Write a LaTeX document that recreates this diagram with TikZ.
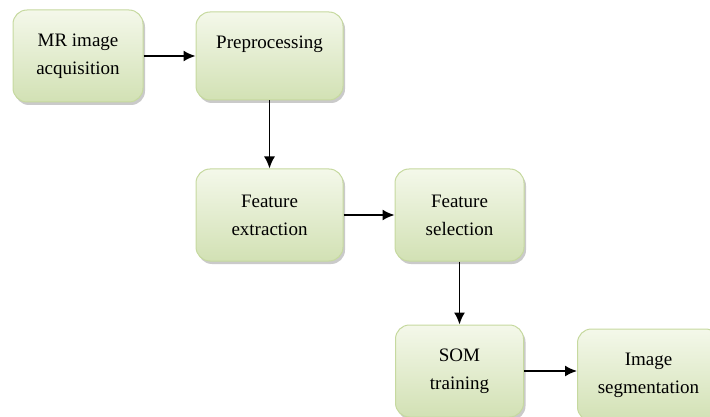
\documentclass[tikz,border=0pt]{standalone}
\usepackage{fontspec}
\setmainfont{Liberation Serif}
\usepackage{tikz}
\usetikzlibrary{positioning,shadows,arrows.meta}

\definecolor{boxtop}{HTML}{F4F8EA}
\definecolor{boxbottom}{HTML}{D2E1B4}
\definecolor{boxedge}{HTML}{C6D99F}

\tikzset{
    stage/.style={rectangle, rounded corners=14pt, draw=boxedge, line width=1pt,
        top color=boxtop, bottom color=boxbottom, align=center,
        font=\fontsize{19}{28}\selectfont, inner sep=0pt,
        drop shadow={shadow xshift=2pt, shadow yshift=-3pt, opacity=0.35, fill=black!60}},
    flow/.style={line width=1.6pt, -{Latex[length=12pt,width=11pt]}}
}

\begin{document}
\begin{tikzpicture}
    \useasboundingbox (0,0) rectangle (710pt,-417pt);
    \node[stage, minimum width=130pt, minimum height=92pt] (acq) at (78pt,-56pt) {MR image\\acquisition};
    \node[stage, minimum width=147pt, minimum height=88pt] (pre) [right=52pt of acq] {Preprocessing\\\mbox{}};
    \node[stage, minimum width=147pt, minimum height=92pt] (ext) [below=68pt of pre] {Feature\\extraction};
    \node[stage, minimum width=129pt, minimum height=92pt] (sel) [right=51pt of ext] {Feature\\selection};
    \node[stage, minimum width=128pt, minimum height=92pt] (som) [below=63pt of sel] {SOM\\training};
    \node[stage, minimum width=142pt, minimum height=92pt] (seg) [right=53pt of som, yshift=-4pt] {Image\\segmentation};
    \draw[flow] (acq) -- (pre);
    \draw[flow] (pre) -- (ext);
    \draw[flow] (ext) -- (sel);
    \draw[flow] (sel) -- (som);
    \draw[flow] (som.east) -- (som.east -| seg.west);
\end{tikzpicture}
\end{document}
